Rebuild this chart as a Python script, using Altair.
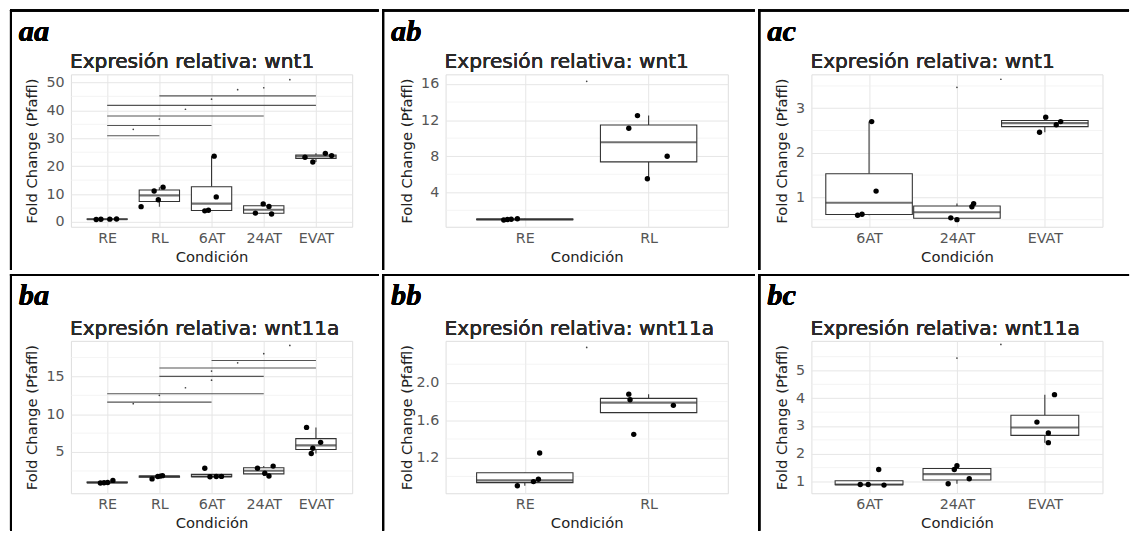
import altair as alt
import pandas as pd

SANS = "DejaVu Sans"
SERIF = "Liberation Serif"

# ---------------- data ----------------
# aa : wnt1, all conditions
aa_cats = ["RE", "RL", "6AT", "24AT", "EVAT"]
aa_cond = ["RE"] * 4 + ["RL"] * 4 + ["6AT"] * 4 + ["24AT"] * 4 + ["EVAT"] * 4
aa_fc = [0.93, 0.98, 1.02, 1.07, 5.5, 11.1, 8.0, 12.5, 4.0, 4.2, 9.0, 23.6,
         3.2, 6.5, 5.6, 2.9, 23.2, 21.5, 24.6, 23.8]
aa_jit = [-0.21, -0.12, 0.05, 0.18, -0.35, -0.10, -0.02, 0.07, -0.13, -0.06, 0.09, 0.05,
          -0.16, -0.01, 0.10, 0.15, -0.21, -0.06, 0.18, 0.30]
aa_br_from = ["RE", "RE", "RE", "RE", "RL"]
aa_br_to = ["RL", "6AT", "24AT", "EVAT", "EVAT"]
aa_br_y = [30.9, 34.6, 38.0, 41.8, 45.2]
aa_sig_from = ["RE", "RE", "RE", "RE", "RL", "6AT", "24AT"]
aa_sig_to = ["RL", "6AT", "24AT", "EVAT", "EVAT", "EVAT", "EVAT"]
aa_sig_y = [33.2, 36.9, 40.4, 44.0, 47.4, 48.1, 51.0]

# ab : wnt1, RE vs RL
ab_cats = ["RE", "RL"]
ab_cond = ["RE"] * 4 + ["RL"] * 4
ab_fc = [0.93, 0.98, 1.02, 1.07, 11.1, 12.5, 8.0, 5.5]
ab_jit = [-0.17, -0.14, -0.11, -0.06, -0.16, -0.09, 0.15, -0.01]
ab_sig_from = ["RE"]
ab_sig_to = ["RL"]
ab_sig_y = [16.3]

# ac : wnt1, 6AT / 24AT / EVAT
ac_cats = ["6AT", "24AT", "EVAT"]
ac_cond = ["6AT"] * 4 + ["24AT"] * 4 + ["EVAT"] * 4
ac_fc = [0.60, 0.62, 1.14, 2.70, 0.54, 0.50, 0.79, 0.86, 2.46, 2.80, 2.63, 2.70]
ac_jit = [-0.13, -0.08, 0.08, 0.03, -0.07, 0.0, 0.17, 0.19, -0.06, 0.01, 0.13, 0.18]
ac_sig_from = ["6AT", "24AT"]
ac_sig_to = ["EVAT", "EVAT"]
ac_sig_y = [3.47, 3.65]

# ba : wnt11a, all conditions
ba_cats = ["RE", "RL", "6AT", "24AT", "EVAT"]
ba_cond = ["RE"] * 4 + ["RL"] * 4 + ["6AT"] * 4 + ["24AT"] * 4 + ["EVAT"] * 4
ba_fc = [0.90, 0.945, 0.97, 1.25, 1.45, 1.76, 1.82, 1.88, 2.86, 1.74, 1.76, 1.78,
         2.86, 2.20, 1.84, 3.14, 8.26, 6.28, 5.50, 4.80]
ba_jit = [-0.13, -0.06, 0.01, 0.11, -0.14, -0.03, 0.02, 0.06, -0.13, -0.03, 0.09, 0.19,
          -0.12, 0.02, 0.10, 0.18, -0.18, 0.09, -0.06, -0.09]
ba_br_from = ["RE", "RE", "RL", "RL", "6AT"]
ba_br_to = ["6AT", "24AT", "24AT", "EVAT", "EVAT"]
ba_br_y = [11.6, 12.7, 15.0, 16.1, 17.1]
ba_sig_from = ["RE", "RE", "RE", "RE", "RL", "RL", "6AT", "24AT"]
ba_sig_to = ["RL", "6AT", "24AT", "EVAT", "24AT", "EVAT", "EVAT", "EVAT"]
ba_sig_y = [11.4, 12.5, 13.5, 14.5, 15.7, 16.8, 18.0, 19.1]

# bb : wnt11a, RE vs RL
bb_cats = ["RE", "RL"]
bb_cond = ["RE"] * 4 + ["RL"] * 4
bb_fc = [0.90, 0.945, 0.97, 1.25, 1.88, 1.82, 1.76, 1.45]
bb_jit = [-0.06, 0.07, 0.11, 0.12, -0.16, -0.15, 0.20, -0.12]
bb_sig_from = ["RE"]
bb_sig_to = ["RL"]
bb_sig_y = [2.38]

# bc : wnt11a, 6AT / 24AT / EVAT
bc_cats = ["6AT", "24AT", "EVAT"]
bc_cond = ["6AT"] * 4 + ["24AT"] * 4 + ["EVAT"] * 4
bc_fc = [0.89, 0.89, 0.87, 1.43, 0.92, 1.43, 1.57, 1.10, 4.13, 3.14, 2.75, 2.40]
bc_jit = [-0.10, -0.01, 0.17, 0.11, -0.10, -0.03, 0.0, 0.14, 0.11, -0.09, 0.04, 0.04]
bc_sig_from = ["6AT", "24AT"]
bc_sig_to = ["EVAT", "EVAT"]
bc_sig_y = [5.45, 5.94]

# axis ranges / breaks
aa_ydom, aa_major, aa_minor = [-1.7, 52.9], [0, 10, 20, 30, 40, 50], [5, 15, 25, 35, 45]
ab_ydom, ab_major, ab_minor = [0.18, 17.07], [4, 8, 12, 16], [2, 6, 10, 14]
ac_ydom, ac_major, ac_minor = [0.34, 3.76], [1, 2, 3], [0.5, 1.5, 2.5, 3.5]
ba_ydom, ba_major, ba_minor = [-0.45, 19.7], [5, 10, 15], [2.5, 7.5, 12.5, 17.5]
bb_ydom, bb_major, bb_minor = [0.82, 2.45], [1.2, 1.6, 2.0], [1.0, 1.4, 1.8, 2.2]
bc_ydom, bc_major, bc_minor = [0.575, 6.07], [1, 2, 3, 4, 5], [1.5, 2.5, 3.5, 4.5, 5.5]

TITLE1 = "Expresión relativa: wnt1"
TITLE2 = "Expresión relativa: wnt11a"

GRID = "#e6e6e6"
GRID_MINOR = "#efefef"
INK = "#333333"


def panel(label, title, cats, cond, fc, jit, ydom, major, minor,
          sig_from, sig_to, sig_y, br_from=None, br_to=None, br_y=None,
          cellW=377, cellH=265, L=62, T=66, W=286, H=155, box_px=41, ytx=-40):
    idx = {c: i for i, c in enumerate(cats)}
    n = len(cats)
    df = pd.DataFrame({"cond": cond, "fc": fc, "jit": jit})
    df["xi"] = df["cond"].map(idx)
    df["xj"] = df["xi"] + df["jit"]

    xscale = alt.Scale(domain=[-0.6, n - 0.4], nice=False, zero=False)
    yscale = alt.Scale(domain=ydom, nice=False, zero=False)
    label_expr = "[" + ",".join("'%s'" % c for c in cats) + "][datum.value]"
    xaxis = alt.Axis(values=list(range(n)), labelExpr=label_expr, title="Condición",
                     grid=True, gridColor=GRID, gridWidth=1, ticks=False, domain=False,
                     labelFont=SANS, labelFontSize=14.5, labelColor="#555555",
                     labelPadding=5, labelFlush=False,
                     titleFont=SANS, titleFontSize=15, titleFontWeight="normal",
                     titleColor="#222222", titleY=30, titleBaseline="middle")
    yaxis = alt.Axis(values=major, title="Fold Change (Pfaffl)",
                     grid=True, gridColor=GRID, gridWidth=1, ticks=False, domain=False,
                     labelFont=SANS, labelFontSize=14.5, labelColor="#555555",
                     labelPadding=7, labelFlush=False,
                     titleFont=SANS, titleFontSize=15, titleFontWeight="normal",
                     titleColor="#222222", titleX=ytx, titleY=H / 2,
                     titleBaseline="middle", titleAlign="center")

    def X(f):
        return alt.X(f, type="quantitative", scale=xscale, axis=xaxis)

    def Y(f):
        return alt.Y(f, type="quantitative", scale=yscale, axis=yaxis)

    layers = []
    mdf = pd.DataFrame({"m": minor})
    layers.append(alt.Chart(mdf).mark_rule(color=GRID_MINOR, strokeWidth=0.7).encode(y=Y("m")))

    base = alt.Chart(df)
    layers.append(base.mark_boxplot(
        extent=1.5, size=box_px, orient="vertical", outliers=False,
        box={"fill": "white", "stroke": INK, "strokeWidth": 1.1},
        median={"color": INK, "thickness": 2.2},
        rule={"color": INK, "strokeWidth": 1.1},
    ).encode(x=X("xi"), y=Y("fc")))

    if br_from:
        bdf = pd.DataFrame({"a": [idx[c] for c in br_from], "b": [idx[c] for c in br_to], "y": br_y})
        layers.append(alt.Chart(bdf).mark_rule(color="#555555", strokeWidth=1.1).encode(
            x=X("a"), x2="b", y=Y("y")))

    sdf = pd.DataFrame({"a": [idx[c] for c in sig_from], "b": [idx[c] for c in sig_to], "y": sig_y})
    layers.append(alt.Chart(sdf).transform_calculate(m="(datum.a + datum.b) / 2")
                  .mark_circle(size=3, color="#444444", opacity=1).encode(x=X("m:Q"), y=Y("y")))

    layers.append(base.mark_circle(size=30, color="black", opacity=1).encode(x=X("xj"), y=Y("fc")))

    # cell border (top and left edges), panel letter and panel title
    layers.append(alt.Chart(mdf).mark_rule(color="black", strokeWidth=2).encode(
        x=alt.value(-L), x2=alt.value(cellW - L), y=alt.value(-T + 1)))
    layers.append(alt.Chart(mdf).mark_rule(color="black", strokeWidth=2).encode(
        x=alt.value(-L + 1), y=alt.value(-T), y2=alt.value(cellH - T)))
    layers.append(alt.Chart(mdf).mark_text(
        font=SERIF, fontSize=31, fontStyle="italic", fontWeight="bold",
        align="left", baseline="alphabetic", color="black").encode(
        x=alt.value(-L + 9), y=alt.value(-T + 32), text=alt.value(label)))
    layers.append(alt.Chart(mdf).mark_text(
        font=SANS, fontSize=20.5, fontWeight="normal", align="left", baseline="alphabetic",
        color="#2a2a2a").encode(
        x=alt.value(-1), y=alt.value(-6), text=alt.value(title)))

    return alt.layer(*layers).properties(width=W, height=H)


pa = panel("aa", TITLE1, aa_cats, aa_cond, aa_fc, aa_jit, aa_ydom, aa_major, aa_minor,
           aa_sig_from, aa_sig_to, aa_sig_y, aa_br_from, aa_br_to, aa_br_y,
           cellW=375, cellH=265, L=62, T=66, W=286, box_px=41, ytx=-40.5)
pb = panel("ab", TITLE1, ab_cats, ab_cond, ab_fc, ab_jit, ab_ydom, ab_major, ab_minor,
           ab_sig_from, ab_sig_to, ab_sig_y,
           cellW=379, cellH=265, L=64.5, T=66, W=287, box_px=98, ytx=-40)
pc = panel("ac", TITLE1, ac_cats, ac_cond, ac_fc, ac_jit, ac_ydom, ac_major, ac_minor,
           ac_sig_from, ac_sig_to, ac_sig_y,
           cellW=377, cellH=265, L=54, T=66, W=296, box_px=88, ytx=-30.5)
pd_ = panel("ba", TITLE2, ba_cats, ba_cond, ba_fc, ba_jit, ba_ydom, ba_major, ba_minor,
            ba_sig_from, ba_sig_to, ba_sig_y, ba_br_from, ba_br_to, ba_br_y,
            cellW=375, cellH=261, L=62, T=68, W=286, box_px=41, ytx=-40.5)
pe = panel("bb", TITLE2, bb_cats, bb_cond, bb_fc, bb_jit, bb_ydom, bb_major, bb_minor,
           bb_sig_from, bb_sig_to, bb_sig_y,
           cellW=379, cellH=261, L=64.5, T=68, W=287, box_px=98, ytx=-40)
pf = panel("bc", TITLE2, bc_cats, bc_cond, bc_fc, bc_jit, bc_ydom, bc_major, bc_minor,
           bc_sig_from, bc_sig_to, bc_sig_y,
           cellW=377, cellH=261, L=54, T=68, W=296, box_px=69, ytx=-30.5)

row1 = alt.hconcat(pa, pb, pc, spacing=0)
row2 = alt.hconcat(pd_, pe, pf, spacing=0)
chart = alt.vconcat(row1, row2, spacing=0).properties(
    padding={"left": 0, "top": -5, "right": 0, "bottom": 0}
).configure_view(stroke=None).configure(background="white")

chart.save("out.html", embed_options={"renderer": "svg", "actions": False})
